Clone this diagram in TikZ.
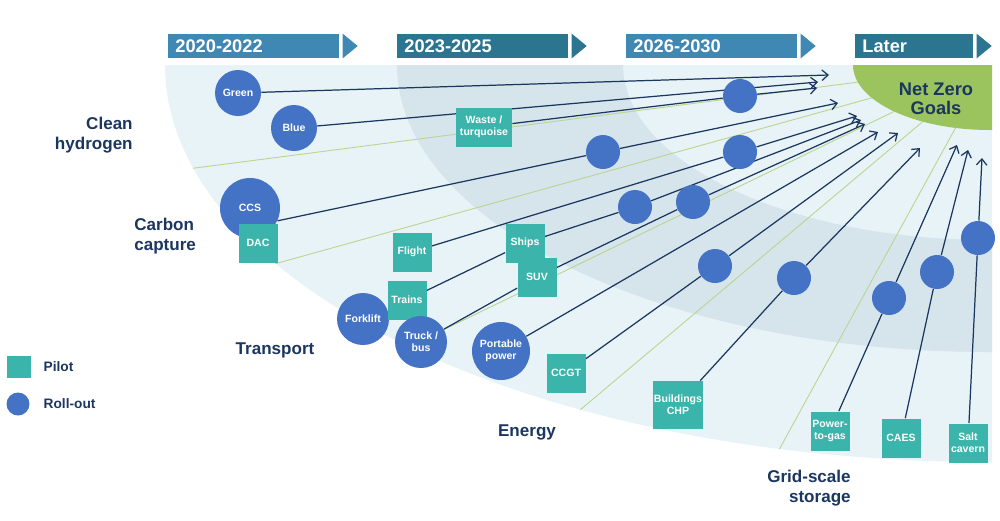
\documentclass[tikz,border=0pt]{standalone}
\usepackage{fontspec}
\setmainfont{Liberation Sans}
\usetikzlibrary{positioning,arrows.meta}

\definecolor{hdrlight}{HTML}{4088B4}
\definecolor{hdrdark}{HTML}{2C7591}
\definecolor{fanlight}{HTML}{E7F3F6}
\definecolor{fandark}{HTML}{D6E4EC}
\definecolor{goalgreen}{HTML}{9BC45E}
\definecolor{navy}{HTML}{1B365F}
\definecolor{pilotc}{HTML}{3BB5AB}
\definecolor{rollc}{HTML}{4472C4}
\definecolor{divgreen}{HTML}{B9D58F}

\pgfdeclarelayer{fan}
\pgfdeclarelayer{links}
\pgfsetlayers{fan,links,main}

\newcommand{\nodefont}{\fontsize{6}{7}\selectfont\bfseries}
\newcommand{\hdrfont}{\fontsize{10.4}{12}\selectfont\bfseries}
\newcommand{\catfont}{\fontsize{9.7}{11.4}\selectfont\bfseries}
\newcommand{\legfont}{\fontsize{7.8}{9}\selectfont\bfseries}

\tikzset{
  pilot/.style={fill=pilotc, minimum width=7.8mm, minimum height=7.8mm,
    inner sep=0.5pt, text=white, font=\nodefont, align=center},
  rollout/.style={circle, fill=rollc, minimum size=#1, inner sep=0pt,
    text=white, font=\nodefont, align=center},
  rollout/.default=6.8mm,
  yearbar/.style={anchor=west, inner xsep=1.4mm, inner ysep=0pt,
    minimum height=4.8mm, align=left, text=white, font=\hdrfont},
  catlabel/.style={text=navy, font=\catfont, inner sep=0pt},
  legtext/.style={text=navy, font=\legfont, inner sep=0pt, anchor=west},
  divider/.style={draw=divgreen, line width=0.5pt},
  link/.style={draw=navy, line width=0.7pt,
    -{Straight Barb[length=3.5pt,width=6pt]}}
}

\begin{document}
\begin{tikzpicture}[x=0.2mm,y=-0.2mm]
\useasboundingbox (0,0) rectangle (1000,520);

% period headers
\foreach \x/\tw/\c/\t [count=\i] in {168/31.4mm/hdrlight/2020-2022,
    397/31.4mm/hdrdark/2023-2025, 626/31.4mm/hdrlight/2026-2030,
    855/20.8mm/hdrdark/Later}{
  \node[yearbar, fill=\c, text width=\tw] (yr\i) at (\x,46) {\t};
  \fill[\c] ([xshift=0.6mm]yr\i.south east) -- ([xshift=0.6mm]yr\i.north east)
    -- ([xshift=3.6mm]yr\i.east) -- cycle;
}

% fan background
\begin{pgfonlayer}{fan}
\begin{scope}
  \clip (150,65) rectangle (992,480);
  \fill[fanlight] (990,65) ellipse [x radius=825, y radius=397];
  \fill[fandark, even odd rule] (990,65) ellipse [x radius=593, y radius=287]
    (990,65) ellipse [x radius=367, y radius=175];
  \clip (990,65) ellipse [x radius=825, y radius=397];
  \foreach \a/\b in {-795/103, -712/198, -547/265, -410/345, -210/383}
    \draw[divider] (990,65) -- ++(\a*1.2,\b*1.2);
  \fill[goalgreen] (990,65) ellipse [x radius=137, y radius=65];
\end{scope}
\end{pgfonlayer}
\node[text=navy, font=\hdrfont, align=center, inner sep=0pt] (goal) at (936,99)
  {Net Zero\\[-1.2pt]Goals};

% clean hydrogen
\node[rollout=9.2mm] (green) at (238,93) {Green};
\node[rollout=9.2mm] (blue) at (294,128) {Blue};
\node[pilot, minimum width=11.2mm] (waste) at (484,127) {Waste /\\turquoise};
\node[rollout] (h2) at (740,96) {};

% carbon capture
\node[rollout=12mm] (ccs) at (250,208) {CCS};
\node[pilot] (dac) at (258,243) {DAC};
\node[rollout] (cc2) at (603,152) {};

% transport
\node[pilot] (flight) at (412,252) {Flight};
\node[rollout] (fl2) at (740,152) {};
\node[pilot] (ships) at (525,243) {Ships};
\node[pilot] (suv) at (537,277) {SUV};
\node[rollout] (sh2) at (635,207) {};
\node[rollout] (su2) at (693,202) {};
\node[rollout=10.4mm] (forklift) at (363,319) {Forklift};
\node[pilot] (trains) at (407,300) {Trains};
\node[rollout=10.4mm] (truck) at (421,342) {Truck /\\bus};

% energy
\node[rollout=11.6mm] (portable) at (501,351) {Portable\\power};
\node[pilot] (ccgt) at (566,373) {CCGT};
\node[rollout] (cg2) at (715,266) {};
\node[pilot, minimum width=9.8mm, minimum height=9.6mm] (chp) at (678,405)
  {Buildings\\CHP};
\node[rollout] (bu2) at (794,278) {};

% grid-scale storage
\node[pilot] (p2g) at (830,431) {Power-\\to-gas};
\node[rollout] (pg2) at (889,298) {};
\node[pilot] (caes) at (901,438) {CAES};
\node[rollout] (ca2) at (937,272) {};
\node[pilot] (salt) at (968,443) {Salt\\cavern};
\node[rollout] (sa2) at (978,238) {};

% arrow ends at the goal
\coordinate (nz1) at (829,75);
\coordinate (nz2) at (818,82);
\coordinate (nz3) at (817,88);
\coordinate (nz4) at (838,103);
\coordinate (nz5) at (857,116);
\coordinate (nz6) at (861,120);
\coordinate (nz7) at (865,124);
\coordinate (nz8) at (878,132);
\coordinate (nz9) at (898,133);
\coordinate (nz10) at (920,148);
\coordinate (nz11) at (957,145);
\coordinate (nz12) at (968,150);
\coordinate (nz13) at (982,158);

\begin{pgfonlayer}{links}
\draw[link] (green) -- (nz1);
\draw[link] (blue) -- (nz2);
\draw[link] (waste) -- (h2) -- (nz3);
\draw[link] (ccs.-25) -- (cc2) -- (nz4);
\draw[link] (flight) -- (fl2) -- (nz5);
\draw[link] (trains) -- (ships) -- (sh2) -- (nz6);
\draw[link] (truck) -- (suv) -- (su2) -- (nz7);
\draw[link] (portable) -- (nz8);
\draw[link] (ccgt) -- (cg2) -- (nz9);
\draw[link] (chp) -- (bu2) -- (nz10);
\draw[link] (p2g) -- (pg2) -- (nz11);
\draw[link] (caes) -- (ca2) -- (nz12);
\draw[link] (salt) -- (sa2) -- (nz13);
\end{pgfonlayer}

% sector names
\node[catlabel, anchor=east, align=right] (labH) at (133,135) {Clean\\hydrogen};
\node[catlabel, anchor=west, align=left] (labC) at (134,236) {Carbon\\capture};
\node[catlabel] (labT) at (275,350) {Transport};
\node[catlabel] (labE) at (527,432) {Energy};
\node[catlabel, anchor=east, align=right] (labG) at (851,488) {Grid-scale\\storage};

% legend
\node[pilot, minimum width=4.8mm, minimum height=4.4mm] (legpilot) at (19,367) {};
\node[legtext, right=2.4mm of legpilot] (legpilottxt) {Pilot};
\node[rollout=4.6mm] (legroll) at (18,404) {};
\node[legtext, right=2.7mm of legroll] (legrolltxt) {Roll-out};
\end{tikzpicture}
\end{document}
